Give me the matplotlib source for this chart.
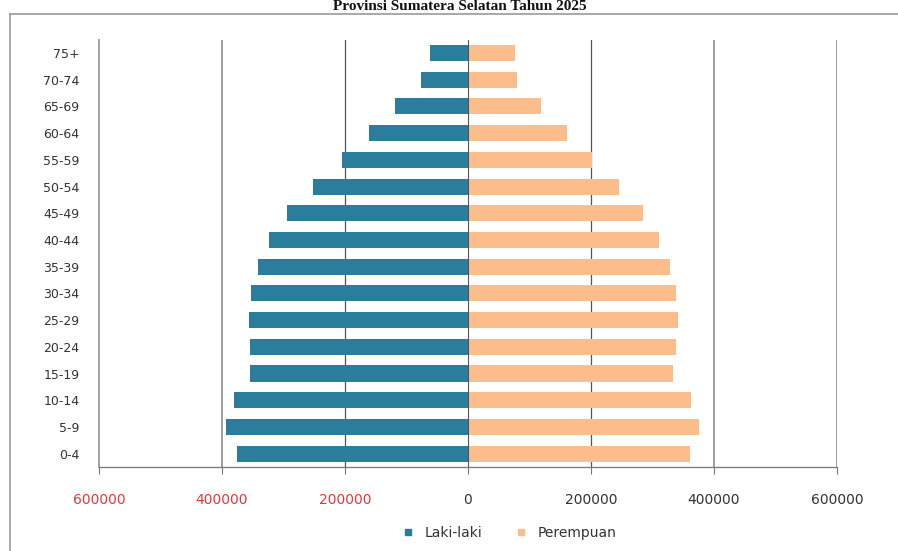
import matplotlib
matplotlib.use("Agg")
import matplotlib.pyplot as plt
from matplotlib.lines import Line2D
from matplotlib.ticker import FuncFormatter
import numpy as np

age_groups = ["0-4", "5-9", "10-14", "15-19", "20-24", "25-29", "30-34", "35-39",
              "40-44", "45-49", "50-54", "55-59", "60-64", "65-69", "70-74", "75+"]
laki_laki = [376000, 394000, 381000, 355000, 355000, 356000, 353000, 342000,
             323000, 294000, 252000, 205000, 161000, 118000, 76000, 61000]
perempuan = [361000, 376000, 363000, 334000, 339000, 342000, 339000, 329000,
             310000, 284000, 245000, 202000, 161000, 119000, 79000, 76000]
x_ticks = [-600000, -400000, -200000, 0, 200000, 400000, 600000]
title = "Provinsi Sumatera Selatan Tahun 2025"

male_color = "#2a7d9c"
female_color = "#fbbd8c"

fig = plt.figure(figsize=(8.98, 5.51), dpi=100)
ax = fig.add_axes([99/898, 1-467/551, (837-99)/898, (467-39.6)/551])

y = np.arange(len(age_groups))
ax.barh(y, [-v for v in laki_laki], height=0.6, color=male_color, label="Laki-laki", zorder=3)
ax.barh(y, perempuan, height=0.6, color=female_color, label="Perempuan", zorder=3)

ax.set_xlim(-600000, 600000)
ax.set_ylim(-0.5, len(age_groups) - 0.5)
ax.set_yticks(y)
ax.set_yticklabels(age_groups)
ax.set_xticks(x_ticks)
ax.xaxis.set_major_formatter(FuncFormatter(lambda v, p: f"{abs(int(v))}"))

for xv in x_ticks:
    if xv in (-600000, 0):
        continue
    ax.axvline(xv, color="#8c8c8c" if abs(xv) != 200000 else "#555555",
               lw=1.2 if abs(xv) != 200000 else 0.9, zorder=1)
ax.axvline(0, color="#555555", lw=0.8, zorder=4)

for s in ["top", "right"]:
    ax.spines[s].set_visible(False)
ax.spines["left"].set_color("#9a9a9a")
ax.spines["left"].set_linewidth(1.3)
ax.spines["bottom"].set_color("#777777")
ax.spines["bottom"].set_linewidth(0.9)

ax.tick_params(axis="y", length=0, labelsize=9, labelcolor="#333333", pad=14)
ax.tick_params(axis="x", length=5, direction="out", color="#777777",
               labelsize=10, labelcolor="#333333", pad=14)
for lbl, xv in zip(ax.get_xticklabels(), x_ticks):
    if xv < 0:
        lbl.set_color("#e0393e")

handles = [Line2D([], [], marker="s", linestyle="", color=male_color, markersize=5),
           Line2D([], [], marker="s", linestyle="", color=female_color, markersize=5)]
fig.legend(handles, ["Laki-laki", "Perempuan"], loc="center", bbox_to_anchor=(505/898, 1-533/551),
           ncol=2, frameon=False, fontsize=10, handletextpad=0.2, columnspacing=1.8,
           labelcolor="#333333")

# chart border
fig.add_artist(Line2D([10/898, 1.0], [1-14/551, 1-14/551], transform=fig.transFigure,
                      color="#9a9a9a", lw=1.2))
fig.add_artist(Line2D([10/898, 10/898], [0, 1-14/551], transform=fig.transFigure,
                      color="#9a9a9a", lw=1.2))

fig.text(460/898, 1-0.5/551, title, ha="center", va="top", fontsize=11,
         fontweight="bold", family="Liberation Serif", color="#111111")

fig.savefig("out.png", dpi=100)
